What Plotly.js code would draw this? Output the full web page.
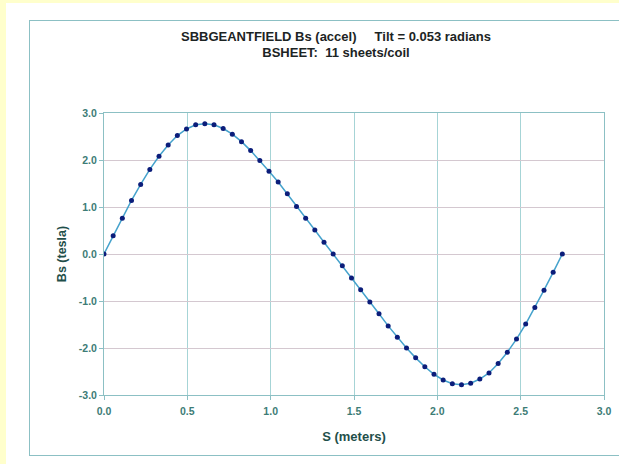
<!DOCTYPE html>
<html>
<head>
<meta charset="utf-8">
<script src="https://cdn.plot.ly/plotly-3.0.1.min.js"></script>
<style>
html,body{margin:0;padding:0;width:619px;height:464px;overflow:hidden;background:#FFFFCC;}
#bg{position:absolute;left:6px;top:3px;width:613px;height:461px;background:#ffffff;}
#chart{position:absolute;left:29px;top:20px;width:640px;height:434px;border-left:1px solid #8cc0c4;border-top:1px solid #8cc0c4;border-bottom:1px solid #8cc0c4;background:#fff;}
</style>
</head>
<body>
<div id="bg"></div>
<div id="chart"></div>
<script>
const sMeters = [0, 0.055, 0.11, 0.165, 0.22, 0.275, 0.33, 0.385, 0.44, 0.495,
  0.55, 0.605, 0.66, 0.715, 0.77, 0.825, 0.88, 0.935, 0.99, 1.045,
  1.1, 1.155, 1.21, 1.265, 1.32, 1.375, 1.43, 1.485, 1.54, 1.595,
  1.65, 1.705, 1.76, 1.815, 1.87, 1.925, 1.98, 2.035, 2.09, 2.145,
  2.2, 2.255, 2.31, 2.365, 2.42, 2.475, 2.53, 2.585, 2.64, 2.695, 2.75];
const bsTesla = [0, 0.39, 0.76, 1.14, 1.48, 1.80, 2.08, 2.32, 2.52, 2.66,
  2.75, 2.77, 2.75, 2.67, 2.55, 2.39, 2.20, 1.99, 1.76, 1.53,
  1.28, 1.01, 0.76, 0.51, 0.25, 0.00, -0.25, -0.51, -0.76, -1.02,
  -1.27, -1.53, -1.77, -2.00, -2.21, -2.40, -2.56, -2.68, -2.76, -2.78,
  -2.75, -2.66, -2.53, -2.33, -2.09, -1.81, -1.49, -1.14, -0.77, -0.39, 0];
const xTickVals = [0, 0.5, 1, 1.5, 2, 2.5, 3];
const xTickText = ["0.0", "0.5", "1.0", "1.5", "2.0", "2.5", "3.0"];
const yTickVals = [-3, -2, -1, 0, 1, 2, 3];
const yTickText = ["-3.0", "-2.0", "-1.0", "0.0", "1.0", "2.0", "3.0"];

const FAM = "Liberation Sans, Arial, sans-serif";
const tickFont = {family: FAM, size: 10.5, color: "#3d7c76", weight: 700};
const trace = {
  x: sMeters, y: bsTesla, type: "scatter", mode: "lines+markers",
  line: {color: "#45a2cc", width: 1.5},
  marker: {color: "#0b1d7a", size: 5},
  hoverinfo: "skip"
};
const layout = {
  width: 640, height: 434,
  margin: {l: 74, r: 66, t: 92, b: 60},
  paper_bgcolor: "#ffffff", plot_bgcolor: "#ffffff",
  showlegend: false,
  title: {
    text: "SBBGEANTFIELD Bs (accel)     Tilt = 0.053 radians<br>BSHEET:  11 sheets/coil",
    font: {family: FAM, size: 13, color: "#1c2424", weight: 700},
    xref: "paper", x: 0.464, xanchor: "center",
    yref: "container", y: 0.955, yanchor: "top"
  },
  xaxis: {
    range: [0, 3], tickvals: xTickVals, ticktext: xTickText,
    showgrid: true, gridcolor: "#a6d4d6", gridwidth: 1,
    showline: true, linecolor: "#8cc0c4", mirror: true,
    ticks: "outside", ticklen: 4, tickcolor: "#8cc0c4",
    zeroline: false, tickfont: tickFont, ticklabelstandoff: 2,
    title: {text: "S (meters)", font: {family: FAM, size: 13, color: "#1f4f4a", weight: 700}, standoff: 16}
  },
  yaxis: {
    range: [-3, 3], tickvals: yTickVals, ticktext: yTickText,
    showgrid: true, gridcolor: "#d4c8d0", gridwidth: 1,
    showline: true, linecolor: "#8cc0c4", mirror: true,
    ticks: "outside", ticklen: 4, tickcolor: "#8cc0c4",
    zeroline: false, tickfont: tickFont,
    title: {text: "Bs (tesla)", font: {family: FAM, size: 12.5, color: "#1f4f4a", weight: 700}, standoff: 9}
  }
};
Plotly.newPlot("chart", [trace], layout, {staticPlot: true, displayModeBar: false});
</script>
</body>
</html>
